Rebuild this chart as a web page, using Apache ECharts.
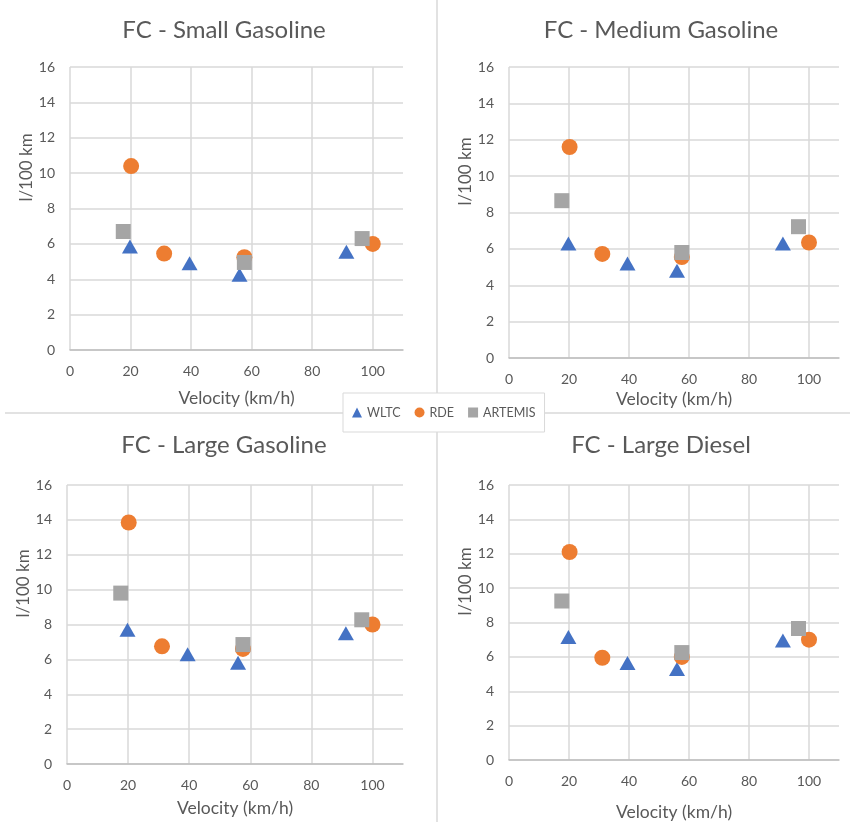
<!DOCTYPE html>
<html>
<head>
<meta charset="utf-8">
<script src="https://cdn.jsdelivr.net/npm/echarts@6/dist/echarts.min.js"></script>
<style>
html,body{margin:0;padding:0;background:#fff;}
#c{width:853px;height:822px;}
</style>
</head>
<body>
<div id="c"></div>
<script>
// ---- data ----
const panelTitles = ['FC - Small Gasoline', 'FC - Medium Gasoline', 'FC - Large Gasoline', 'FC - Large Diesel'];
const seriesNames = ['WLTC', 'RDE', 'ARTEMIS'];
const xTickValues = [0, 20, 40, 60, 80, 100];
const yTickValues = [0, 2, 4, 6, 8, 10, 12, 14, 16];
const wltcSpeed = [19.8, 39.5, 56.0, 91.3];
const rdeSpeed = [20.2, 31.1, 57.6, 100];
const artemisSpeed = [17.6, 57.6, 96.5];

const smallWLTC = [5.85, 4.9, 4.25, 5.55];
const smallRDE = [10.4, 5.45, 5.25, 6.0];
const smallARTEMIS = [6.7, 4.95, 6.3];

const mediumWLTC = [6.3, 5.2, 4.8, 6.3];
const mediumRDE = [11.6, 5.72, 5.55, 6.35];
const mediumARTEMIS = [8.65, 5.8, 7.22];

const largeGasWLTC = [7.7, 6.3, 5.8, 7.5];
const largeGasRDE = [13.85, 6.75, 6.6, 8.0];
const largeGasARTEMIS = [9.8, 6.85, 8.27];

const largeDieselWLTC = [7.15, 5.65, 5.3, 6.95];
const largeDieselRDE = [12.1, 5.95, 6.0, 7.0];
const largeDieselARTEMIS = [9.25, 6.25, 7.65];

const panelData = [
  [smallWLTC, smallRDE, smallARTEMIS],
  [mediumWLTC, mediumRDE, mediumARTEMIS],
  [largeGasWLTC, largeGasRDE, largeGasARTEMIS],
  [largeDieselWLTC, largeDieselRDE, largeDieselARTEMIS]
];
const speeds = [wltcSpeed, rdeSpeed, artemisSpeed];

// ---- layout / style ----
const FONT = 'Lato, "Open Sans", sans-serif';
const TXT = '#595959';
const colors = ['#4472C4', '#ED7D31', '#A5A5A5'];
const symbols = ['triangle', 'circle', 'rect'];
const symbolSizes = [[16, 14], 16, 15];

const grids = [
  {left: 70, top: 67, width: 333, height: 283},
  {left: 509, top: 67, width: 330, height: 291},
  {left: 67, top: 485, width: 336, height: 279},
  {left: 509, top: 485, width: 330, height: 276}
];
const xNameGaps = [39, 32, 35, 43];
const titlePos = [[219, 13], [656, 13], [219, 428], [656, 428]];

const zip = (xs, ys) => xs.map((x, i) => [x, ys[i]]);

const option = {
  backgroundColor: '#fff',
  animation: false,
  textStyle: {fontFamily: FONT},
  title: panelTitles.map((t, i) => ({
    text: t, left: titlePos[i][0], top: titlePos[i][1], textAlign: 'center',
    textStyle: {fontFamily: FONT, fontSize: 24, fontWeight: 'normal', color: TXT}
  })),
  legend: {
    data: seriesNames.map((n, i) => ({name: n, icon: symbols[i]})),
    left: 343, top: 393,
    itemWidth: 10, itemHeight: 10, itemGap: 14,
    padding: [13, 9, 13, 9],
    borderColor: '#d9d9d9', borderWidth: 1, backgroundColor: '#fff',
    textStyle: {fontFamily: FONT, fontSize: 12.5, color: TXT},
    z: 10
  },
  graphic: [
    {type: 'line', shape: {x1: 437, y1: 0, x2: 437, y2: 822}, style: {stroke: '#d9d9d9', lineWidth: 1.5}, z: 0},
    {type: 'line', shape: {x1: 5, y1: 413, x2: 850, y2: 413}, style: {stroke: '#d9d9d9', lineWidth: 1.5}, z: 0}
  ],
  grid: grids,
  xAxis: grids.map((g, i) => ({
    type: 'value', gridIndex: i, min: xTickValues[0], max: 110, interval: 20,
    name: 'Velocity (km/h)', nameLocation: 'middle', nameGap: xNameGaps[i],
    nameTextStyle: {fontFamily: FONT, fontSize: 17.5, color: TXT},
    axisLine: {show: true, lineStyle: {color: '#bfbfbf', width: 1.5}},
    axisTick: {show: false},
    axisLabel: {fontFamily: FONT, fontSize: 14, color: TXT, margin: 14, showMaxLabel: false},
    splitLine: {show: true, showMaxLine: false, lineStyle: {color: '#d9d9d9', width: 1.5}}
  })),
  yAxis: grids.map((g, i) => ({
    type: 'value', gridIndex: i, min: yTickValues[0], max: 16, interval: 2,
    name: 'l/100 km', nameLocation: 'middle', nameGap: 35,
    nameTextStyle: {fontFamily: FONT, fontSize: 17, color: TXT, padding: [0, 0, 0, 82]},
    axisLine: {show: false},
    axisTick: {show: false},
    axisLabel: {fontFamily: FONT, fontSize: 14, color: TXT, margin: 15},
    splitLine: {show: true, lineStyle: {color: '#d9d9d9', width: 1.5}}
  })),
  series: []
};

panelData.forEach((pd, p) => {
  pd.forEach((vals, s) => {
    option.series.push({
      type: 'scatter', name: seriesNames[s], xAxisIndex: p, yAxisIndex: p,
      symbol: symbols[s], symbolSize: symbolSizes[s],
      itemStyle: {color: colors[s], opacity: 1},
      data: zip(speeds[s], vals),
      z: 2 + s
    });
  });
});

const chart = echarts.init(document.getElementById('c'), null, {renderer: 'canvas'});
chart.setOption(option);
</script>
</body>
</html>
